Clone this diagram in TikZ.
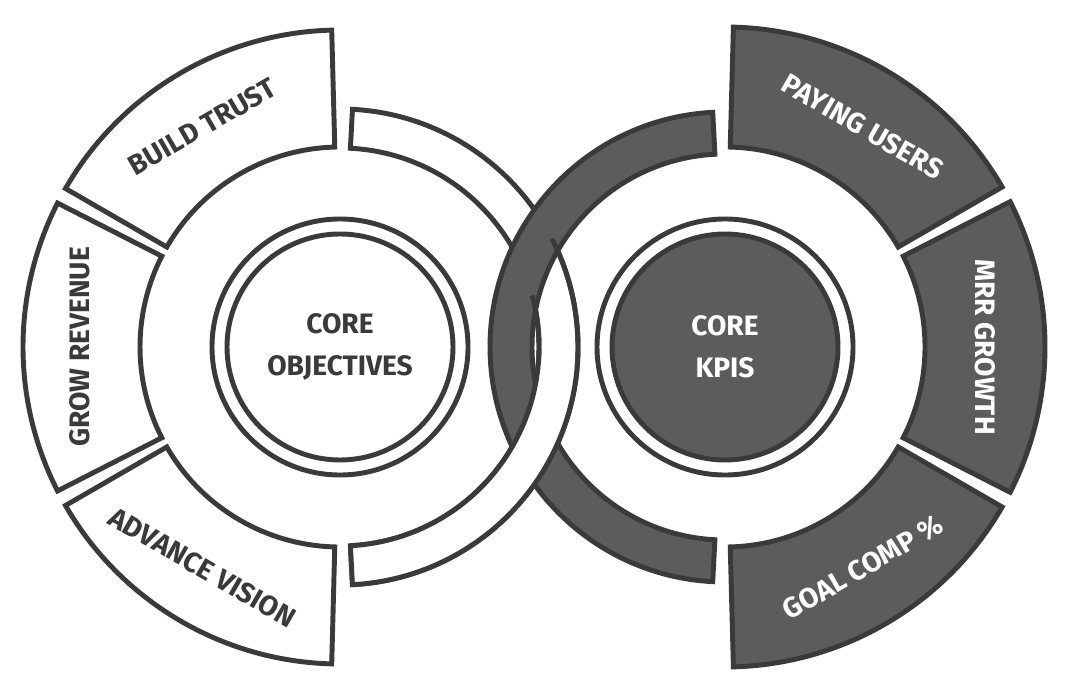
\documentclass[tikz,border=0pt]{standalone}
\usepackage{fontspec}
\setmainfont{Fira Sans}
\definecolor{ink}{HTML}{3A3A3A}
\definecolor{shade}{HTML}{5C5C5C}
\newcommand\annseg[5]{% style, start, end, inner, outer
  \draw[#1] (#2:#5) arc (#2:#3:#5) -- (#3:#4) arc (#3:#2:#4) -- cycle;}
\begin{document}
\begin{tikzpicture}[
    lite/.style = {draw=ink, line width=1.4pt, fill=white},
    dark/.style = {draw=ink, line width=1.4pt, fill=shade},
    rim/.style  = {draw=ink, line width=1.4pt},
    lbl/.style  = {font=\fontsize{8}{10}\selectfont\bfseries, text=ink, align=center},
    dlbl/.style = {lbl, text=white}]
  \useasboundingbox (0,0) rectangle (10.72,6.93);
  \coordinate (L) at (3.40,3.46);
  \coordinate (R) at (7.25,3.46);
  % left ring, first pass
  \begin{scope}[shift={(L)}]
    \annseg{lite}{-87}{87}{1.99}{2.38}
  \end{scope}
  % right ring
  \begin{scope}[shift={(R)}]
    \annseg{dark}{93}{267}{1.93}{2.35}
  \end{scope}
  % left ring over the right one
  \begin{scope}[shift={(L)}]
    \fill[white] (-87:2.38) arc (-87:-5:2.38) -- (-5:1.99) arc (-5:-87:1.99) -- cycle;
    \draw[rim] (-87:1.99) -- (-87:2.38);
    \draw[rim] (-87:1.99) arc (-87:15:1.99);
    \draw[rim] (-87:2.38) arc (-87:27:2.38);
  \end{scope}
  % left side
  \begin{scope}[shift={(L)}]
    \annseg{lite}{91.5}{150}{2.0}{3.17}
    \annseg{lite}{153}{207}{2.0}{3.17}
    \annseg{lite}{210}{268.5}{2.0}{3.17}
    \draw[lite] (0,0) circle (1.28);
    \draw[lite] (0,0) circle (1.13);
    \node[lbl, rotate=30]  (trust)   at (122:2.6) {BUILD TRUST};
    \node[lbl, rotate=90]  (revenue) at (180:2.6) {GROW REVENUE};
    \node[lbl, rotate=-30] (vision)  at (238:2.6) {ADVANCE VISION};
    \node[lbl] (objectives) at (0,0) {CORE\\[2pt]OBJECTIVES};
  \end{scope}
  % right side
  \begin{scope}[shift={(R)}]
    \annseg{dark}{88.5}{30}{2.0}{3.2}
    \annseg{dark}{27}{-27}{2.0}{3.2}
    \annseg{dark}{-30}{-88.5}{2.0}{3.2}
    \draw[lite] (0,0) circle (1.28);
    \draw[dark] (0,0) circle (1.13);
    \node[dlbl, rotate=-30] (users)  at (58:2.6)  {PAYING USERS};
    \node[dlbl, rotate=-90] (mrr)    at (0:2.6)   {MRR GROWTH};
    \node[dlbl, rotate=30]  (goal)   at (-58:2.6) {GOAL COMP \%};
    \node[dlbl] (kpis) at (0,0) {CORE\\[2pt]KPIS};
  \end{scope}
\end{tikzpicture}
\end{document}
